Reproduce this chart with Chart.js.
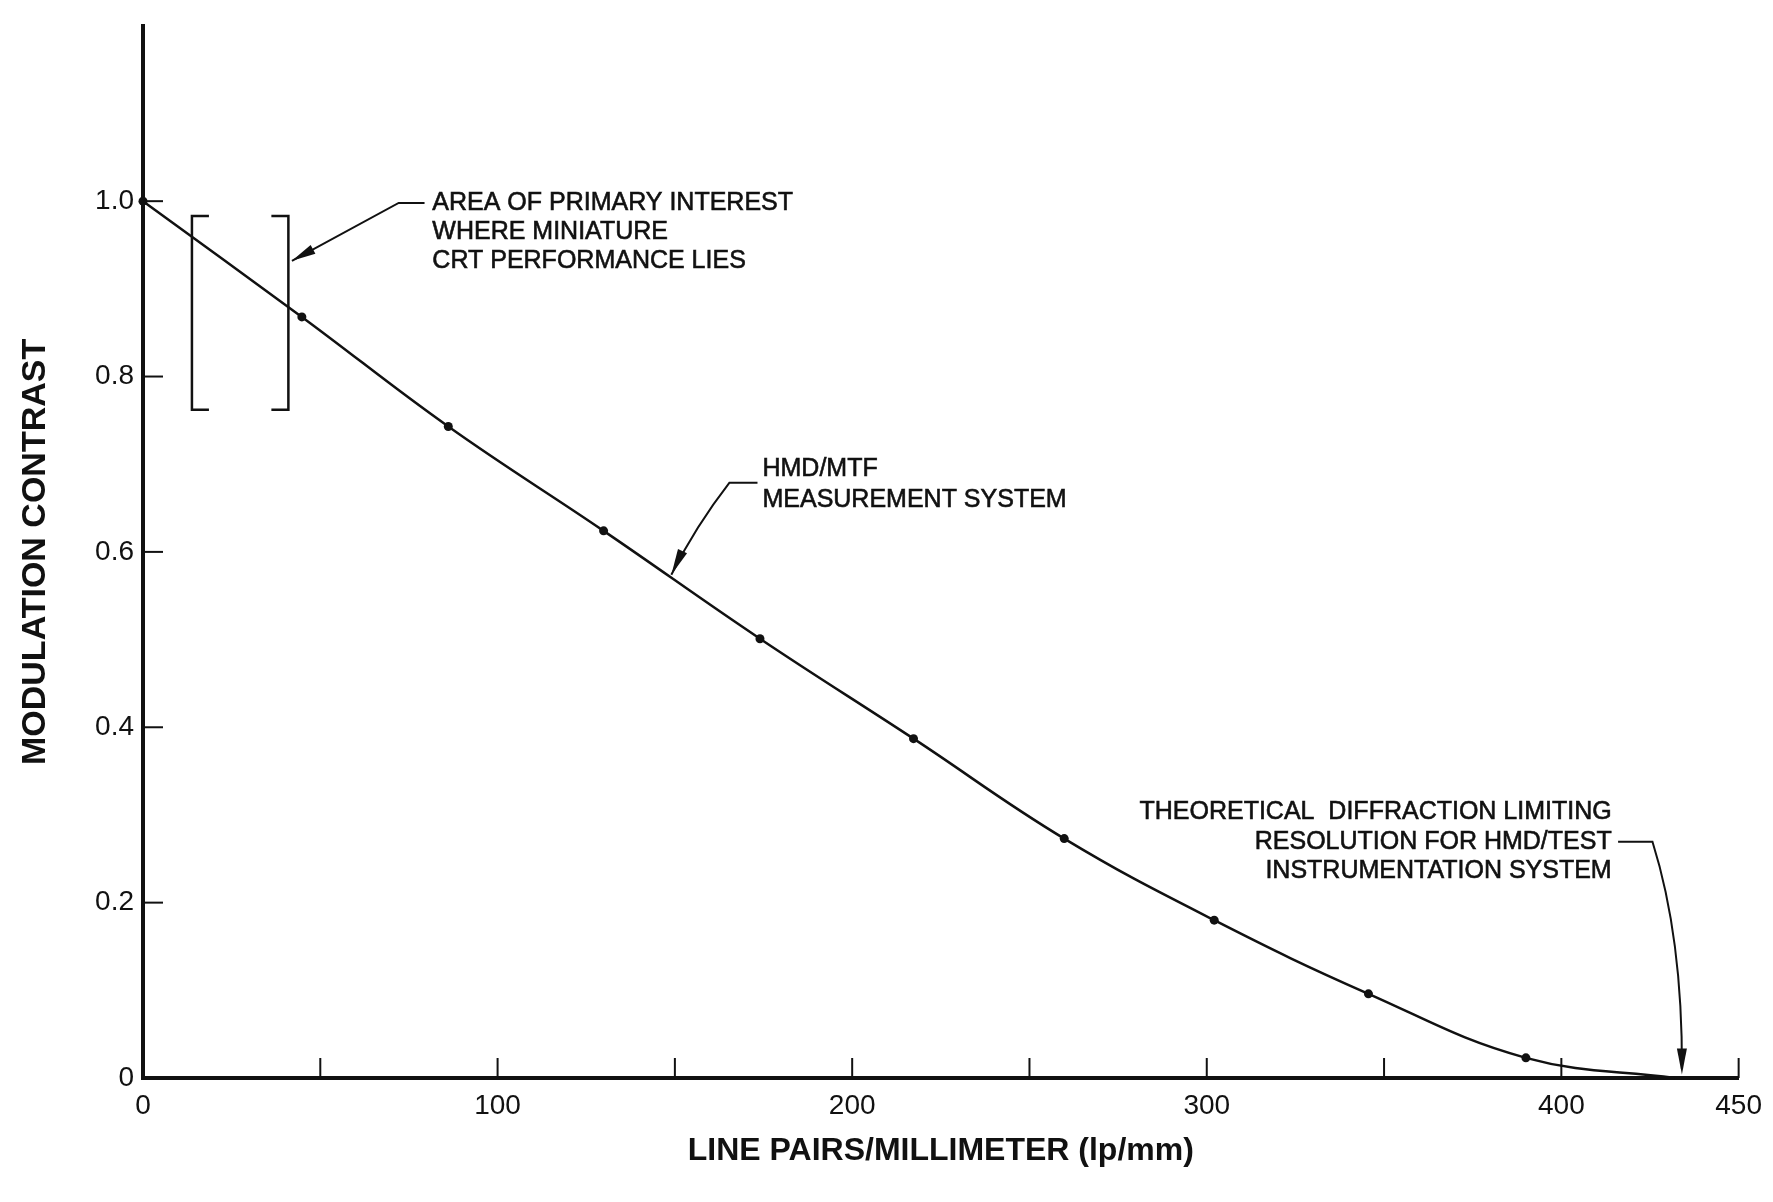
<!DOCTYPE html>
<html>
<head>
<meta charset="utf-8">
<script src="https://cdn.jsdelivr.net/npm/chart.js@4.4.1/dist/chart.umd.min.js"></script>
<style>
  html, body { margin: 0; padding: 0; background: #fff; }
  #wrap { width: 1773px; height: 1202px; }
</style>
</head>
<body>
<div id="wrap"><canvas id="mtfChart" width="1773" height="1202"></canvas></div>
<script>
const freqs    = [0, 44.8, 86.1, 129.9, 174.0, 217.3, 259.8, 302.1, 345.6, 390.0];
const contrast = [1.0, 0.868, 0.743, 0.624, 0.501, 0.387, 0.273, 0.180, 0.096, 0.023];
// where the curve runs into the axis (diffraction limit)
const cutoffFreq = 432;

const xTicks      = [0, 50, 100, 150, 200, 250, 300, 350, 400, 450];
const xTickLabels = ['0', '', '100', '', '200', '', '300', '', '400', '450'];
const yTicks      = [0, 0.2, 0.4, 0.6, 0.8, 1.0];
const yTickLabels = ['0', '0.2', '0.4', '0.6', '0.8', '1.0'];

const ink = '#111';
const noteFont = '25px "Liberation Sans", Arial, sans-serif';

function line(ctx, x1, y1, x2, y2) {
  ctx.beginPath();
  ctx.moveTo(x1, y1);
  ctx.lineTo(x2, y2);
  ctx.stroke();
}

// filled slim arrow head, tip at (tx,ty), coming from (fx,fy)
function arrowHead(ctx, tx, ty, fx, fy, len, half) {
  const a = Math.atan2(ty - fy, tx - fx);
  ctx.beginPath();
  ctx.moveTo(tx, ty);
  ctx.lineTo(tx - len * Math.cos(a) + half * Math.sin(a), ty - len * Math.sin(a) - half * Math.cos(a));
  ctx.lineTo(tx - len * Math.cos(a) - half * Math.sin(a), ty - len * Math.sin(a) + half * Math.cos(a));
  ctx.closePath();
  ctx.fill();
}

// text with a thin outline so it reads as heavy as the scan
function noteText(ctx, t, x, y) {
  ctx.fillText(t, x, y);
  ctx.lineWidth = 0.6;
  ctx.strokeText(t, x, y);
}

const notes = {
  id: 'notes',
  afterDraw(chart) {
    const ctx = chart.ctx;
    const x = chart.scales.x, y = chart.scales.y;
    const px = v => x.getPixelForValue(v);
    const py = v => y.getPixelForValue(v);
    ctx.save();
    ctx.strokeStyle = ink;
    ctx.fillStyle = ink;

    // inward ticks
    ctx.lineWidth = 2;
    xTicks.forEach(v => { if (v > 0) line(ctx, px(v), py(0), px(v), py(0) - 20); });
    yTicks.forEach(v => { if (v > 0) line(ctx, px(0), py(v), px(0) + 20, py(v)); });

    // brackets round the area of interest
    ctx.lineWidth = 2.5;
    const bTop = py(0.983), bBot = py(0.762);
    const bl = px(13.8), br = px(41.0), serif = 17;
    ctx.beginPath();
    ctx.moveTo(bl + serif, bTop); ctx.lineTo(bl, bTop); ctx.lineTo(bl, bBot); ctx.lineTo(bl + serif, bBot);
    ctx.moveTo(br - serif, bTop); ctx.lineTo(br, bTop); ctx.lineTo(br, bBot); ctx.lineTo(br - serif, bBot);
    ctx.stroke();

    ctx.font = noteFont;
    ctx.textBaseline = 'middle';

    // area of primary interest
    ctx.textAlign = 'left';
    ['AREA OF PRIMARY INTEREST', 'WHERE MINIATURE', 'CRT PERFORMANCE LIES']
      .forEach((t, i) => noteText(ctx, t, px(81.6), py(0.998) + i * 29));
    ctx.lineWidth = 2;
    ctx.beginPath();
    ctx.moveTo(px(79.4), py(0.998));
    ctx.lineTo(px(72.1), py(0.998));
    ctx.lineTo(px(42.0), py(0.932));
    ctx.stroke();
    arrowHead(ctx, px(42.0), py(0.932), px(72.1), py(0.998), 24, 5);

    // measurement system
    ['HMD/MTF', 'MEASUREMENT SYSTEM']
      .forEach((t, i) => noteText(ctx, t, px(174.7), py(0.694) + i * 31));
    ctx.lineWidth = 2;
    ctx.beginPath();
    ctx.moveTo(px(173.3), py(0.679));
    ctx.lineTo(px(165.4), py(0.679));
    ctx.quadraticCurveTo(px(156), py(0.63), px(149.0), py(0.574));
    ctx.stroke();
    arrowHead(ctx, px(149.0), py(0.574), px(155), py(0.625), 26, 5);

    // theoretical limit
    ctx.textAlign = 'right';
    ['THEORETICAL  DIFFRACTION LIMITING', 'RESOLUTION FOR HMD/TEST', 'INSTRUMENTATION SYSTEM']
      .forEach((t, i) => noteText(ctx, t, px(414.2), py(0.3027) + i * 29.5));
    ctx.lineWidth = 2;
    ctx.beginPath();
    ctx.moveTo(px(416.0), py(0.2694));
    ctx.lineTo(px(425.7), py(0.2694));
    ctx.quadraticCurveTo(px(434.2), py(0.16), px(434.0), py(0.01));
    ctx.stroke();
    arrowHead(ctx, px(434.0), py(0.004), px(434.0), py(0.06), 26, 5);

    ctx.restore();
  }
};

const points = freqs.map((f, i) => ({ x: f, y: contrast[i] }));
points.push({ x: cutoffFreq, y: 0 });

Chart.defaults.font.family = '"Liberation Sans", Arial, sans-serif';
Chart.defaults.color = ink;

new Chart(document.getElementById('mtfChart'), {
  type: 'line',
  data: {
    datasets: [{
      data: points,
      borderColor: ink,
      borderWidth: 2.5,
      backgroundColor: ink,
      pointBackgroundColor: ink,
      pointBorderWidth: 0,
      pointRadius: c => (c.dataIndex < freqs.length ? 4.5 : 0),
      tension: 0.4,
      fill: false,
      clip: false
    }]
  },
  options: {
    responsive: false,
    animation: false,
    devicePixelRatio: 1,
    layout: { padding: { top: 20, right: 28, left: 0, bottom: 0 } },
    plugins: { legend: { display: false }, tooltip: { enabled: false } },
    scales: {
      x: {
        type: 'linear',
        min: 0,
        max: 450,
        afterBuildTicks: s => { s.ticks = xTicks.map(v => ({ value: v })); },
        afterFit: s => { s.height = 124; },
        grid: { display: false, drawTicks: false },
        border: { display: true, color: ink, width: 4 },
        ticks: {
          padding: 11,
          maxRotation: 0,
          autoSkip: false,
          font: { size: 28 },
          callback: v => xTickLabels[xTicks.indexOf(v)]
        },
        title: {
          display: true,
          text: 'LINE PAIRS/MILLIMETER (lp/mm)',
          font: { size: 32, weight: 'bold' },
          padding: { top: 0, bottom: 32 }
        }
      },
      y: {
        type: 'linear',
        min: 0,
        max: 1.2,
        afterBuildTicks: s => { s.ticks = yTicks.map(v => ({ value: v })); },
        afterFit: s => { s.width = 143; },
        grid: { display: false, drawTicks: false },
        border: { display: true, color: ink, width: 4 },
        ticks: {
          padding: 9,
          autoSkip: false,
          font: { size: 28 },
          callback: v => yTickLabels[yTicks.findIndex(t => Math.abs(t - v) < 1e-9)]
        },
        title: {
          display: true,
          text: 'MODULATION CONTRAST',
          font: { size: 34, weight: 'bold' },
          padding: { top: 15, bottom: 0 }
        }
      }
    }
  },
  plugins: [notes]
});
</script>
</body>
</html>
